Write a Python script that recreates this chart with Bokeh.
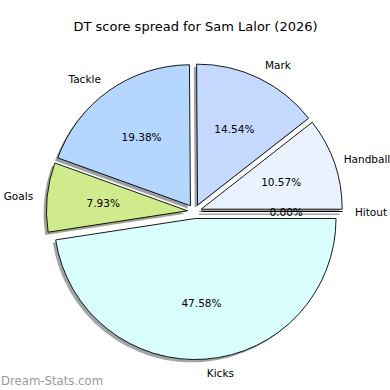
import numpy as np
from bokeh.plotting import figure
from bokeh.models import Range1d, Label
from bokeh.core.properties import value
from bokeh.embed import file_html
from bokeh.resources import INLINE

# ---- data ----
categories = ["Hitout", "Handball", "Mark", "Tackle", "Goals", "Kicks"]
percentages = [0.00, 10.57, 14.54, 19.38, 7.93, 47.58]
colors = ["#f2f6ff", "#eaf2ff", "#c5d9ff", "#b5d6ff", "#d0eb8c", "#d9ffff"]
title_text = "DT score spread for Sam Lalor (2026)"
watermark_text = "Dream-Stats.com"

# ---- layout (reference pixel space, y measured upward) ----
REF = 390
W = H = 390
cx, cy = 194.0, REF - 211.0
r = 141.0
explode = 0.05 * r
shadow_off = 0.02 * r
FONT = value("DejaVu Sans")
LBL = "10.5px"

p = figure(width=W, height=H, x_range=Range1d(0, W), y_range=Range1d(0, H),
           output_backend="svg", toolbar_location=None, min_border=0)
p.axis.visible = False
p.grid.visible = False
p.outline_line_color = None
p.background_fill_color = "white"
p.border_fill_color = "white"

vals = np.array(percentages, dtype=float)
frac = vals / vals.sum()
theta2 = np.cumsum(frac) * 2 * np.pi
theta1 = theta2 - frac * 2 * np.pi
mid = (theta1 + theta2) / 2
ex = cx + explode * np.cos(mid)
ey = cy + explode * np.sin(mid)


def shadow_color(h):
    h = h.lstrip("#")
    rgb = [int(h[i:i + 2], 16) for i in (0, 2, 4)]
    return "#%02x%02x%02x" % tuple(int(0.3 * c) for c in rgb)


nz = frac > 0
zr = ~nz
sh_cols = [shadow_color(c) for c in colors]

# shadows
p.wedge(x=list(ex[nz] - shadow_off), y=list(ey[nz] - shadow_off), radius=r,
        start_angle=list(theta1[nz]), end_angle=list(theta2[nz]),
        fill_color=[c for c, k in zip(sh_cols, nz) if k], fill_alpha=0.5,
        line_color=None)
if zr.any():
    p.segment(x0=list(ex[zr] - shadow_off), y0=list(ey[zr] - shadow_off),
              x1=list(ex[zr] - shadow_off + r * np.cos(theta1[zr])),
              y1=list(ey[zr] - shadow_off + r * np.sin(theta1[zr])),
              line_color="#4a4a4a", line_alpha=0.5, line_width=1.5)

# wedges
p.wedge(x=list(ex[nz]), y=list(ey[nz]), radius=r,
        start_angle=list(theta1[nz]), end_angle=list(theta2[nz]),
        fill_color=[c for c, k in zip(colors, nz) if k],
        line_color="black", line_width=0.9)
if zr.any():
    p.segment(x0=list(ex[zr]), y0=list(ey[zr]),
              x1=list(ex[zr] + r * np.cos(theta1[zr])),
              y1=list(ey[zr] + r * np.sin(theta1[zr])),
              line_color="black", line_width=1)

# category labels (nudged inward only if they would run past the edge)
lx = ex + 1.1 * r * np.cos(mid)
ly = ey + 1.1 * r * np.sin(mid)
right = np.cos(mid) > 0
est_w = np.array([5.6 * len(c) for c in categories])
lx = np.where(right, np.minimum(lx, W - 2 - est_w), np.maximum(lx, est_w + 2))
for mask, align in ((right, "left"), (~right, "right")):
    p.text(x=list(lx[mask]), y=list(ly[mask]),
           text=[c for c, k in zip(categories, mask) if k],
           text_font=FONT, text_font_size=LBL, text_color="black",
           text_align=align, text_baseline="middle")

# percentages
px = ex + 0.6 * r * np.cos(mid)
py = ey + 0.6 * r * np.sin(mid)
p.text(x=list(px), y=list(py), text=["%.2f%%" % v for v in vals],
       text_font=FONT, text_font_size=LBL, text_color="black",
       text_align="center", text_baseline="middle")

# title
p.add_layout(Label(x=195, y=REF - 26, text=title_text, text_font="DejaVu Sans",
                   text_font_size="13px", text_color="black",
                   text_align="center", text_baseline="middle"))
# watermark
p.add_layout(Label(x=0.5, y=REF - 380, text=watermark_text, text_font="DejaVu Sans",
                   text_font_size="11.7px", text_color="#9a9a9a",
                   text_align="left", text_baseline="middle"))

open("out.html", "w").write(file_html(p, INLINE))
